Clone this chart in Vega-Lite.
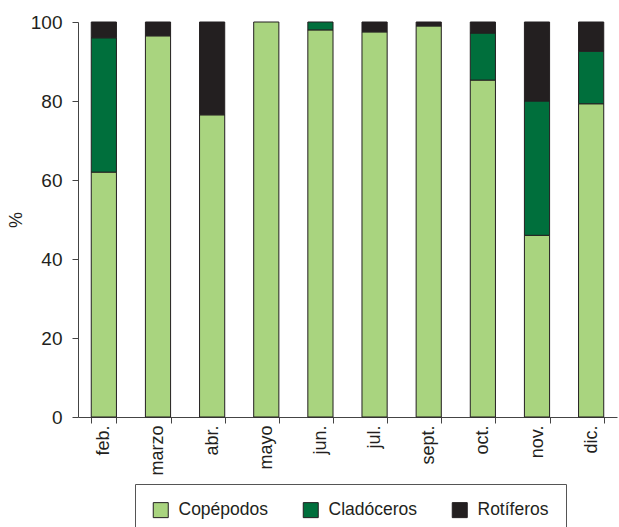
{
  "$schema": "https://vega.github.io/schema/vega-lite/v6.json",
  "width": 539,
  "height": 395,
  "autosize": {"type": "none"},
  "padding": {"left": 78, "top": 22, "right": 2, "bottom": 110},
  "background": "white",
  "config": {
    "view": {"stroke": null},
    "font": "Liberation Sans",
    "axis": {"labelFont": "Liberation Sans", "titleFont": "Liberation Sans", "labelColor": "#231f20", "titleColor": "#231f20", "domainColor": "#444", "tickColor": "#444", "grid": false, "labelFontSize": 18, "titleFontSize": 18, "titleFontWeight": "normal"},
    "legend": {"labelFont": "Liberation Sans", "labelFontSize": 17.5, "labelColor": "#231f20"}
  },
  "data": {
    "values": [
      {"mes": "feb.", "grupo": "Copépodos", "ord": 1, "v": 62},
      {"mes": "feb.", "grupo": "Cladóceros", "ord": 2, "v": 34},
      {"mes": "feb.", "grupo": "Rotíferos", "ord": 3, "v": 4},
      {"mes": "marzo", "grupo": "Copépodos", "ord": 1, "v": 96.5},
      {"mes": "marzo", "grupo": "Rotíferos", "ord": 3, "v": 3.5},
      {"mes": "abr.", "grupo": "Copépodos", "ord": 1, "v": 76.5},
      {"mes": "abr.", "grupo": "Rotíferos", "ord": 3, "v": 23.5},
      {"mes": "mayo", "grupo": "Copépodos", "ord": 1, "v": 100},
      {"mes": "jun.", "grupo": "Copépodos", "ord": 1, "v": 98},
      {"mes": "jun.", "grupo": "Cladóceros", "ord": 2, "v": 2},
      {"mes": "jul.", "grupo": "Copépodos", "ord": 1, "v": 97.5},
      {"mes": "jul.", "grupo": "Rotíferos", "ord": 3, "v": 2.5},
      {"mes": "sept.", "grupo": "Copépodos", "ord": 1, "v": 99},
      {"mes": "sept.", "grupo": "Rotíferos", "ord": 3, "v": 1},
      {"mes": "oct.", "grupo": "Copépodos", "ord": 1, "v": 85.3},
      {"mes": "oct.", "grupo": "Cladóceros", "ord": 2, "v": 11.9},
      {"mes": "oct.", "grupo": "Rotíferos", "ord": 3, "v": 2.8},
      {"mes": "nov.", "grupo": "Copépodos", "ord": 1, "v": 46},
      {"mes": "nov.", "grupo": "Cladóceros", "ord": 2, "v": 34},
      {"mes": "nov.", "grupo": "Rotíferos", "ord": 3, "v": 20},
      {"mes": "dic.", "grupo": "Copépodos", "ord": 1, "v": 79.3},
      {"mes": "dic.", "grupo": "Cladóceros", "ord": 2, "v": 13.3},
      {"mes": "dic.", "grupo": "Rotíferos", "ord": 3, "v": 7.4}
    ]
  },
  "mark": {"type": "bar", "stroke": "#231f20", "strokeWidth": 1},
  "encoding": {
    "x": {
      "field": "mes", "type": "nominal",
      "sort": ["feb.", "marzo", "abr.", "mayo", "jun.", "jul.", "sept.", "oct.", "nov.", "dic."],
      "scale": {"paddingInner": 0.535, "paddingOuter": 0.245},
      "axis": {"title": null, "labelAngle": -90, "labelAlign": "right", "labelBaseline": "middle", "tickBand": "extent", "tickSize": 6, "labelPadding": 2}
    },
    "y": {
      "field": "v", "type": "quantitative", "stack": "zero",
      "scale": {"domain": [0, 100], "nice": false},
      "axis": {"title": "%", "values": [0, 20, 40, 60, 80, 100], "tickSize": 6, "labelPadding": 10, "labelFontSize": 19, "titlePadding": 5}
    },
    "color": {
      "field": "grupo", "type": "nominal",
      "sort": ["Copépodos", "Cladóceros", "Rotíferos"],
      "scale": {"domain": ["Copépodos", "Cladóceros", "Rotíferos"], "range": ["#a9d47f", "#006f3c", "#231f20"]},
      "legend": {
        "title": null, "orient": "none", "legendX": 57, "legendY": 462,
        "direction": "horizontal", "columns": 3, "columnPadding": 32,
        "symbolType": "square", "symbolSize": 225, "symbolStrokeColor": "#231f20", "symbolStrokeWidth": 1,
        "labelOffset": 9, "padding": 17, "strokeColor": "#555", "fillColor": "white"
      }
    },
    "order": {"field": "ord", "type": "quantitative"}
  }
}
